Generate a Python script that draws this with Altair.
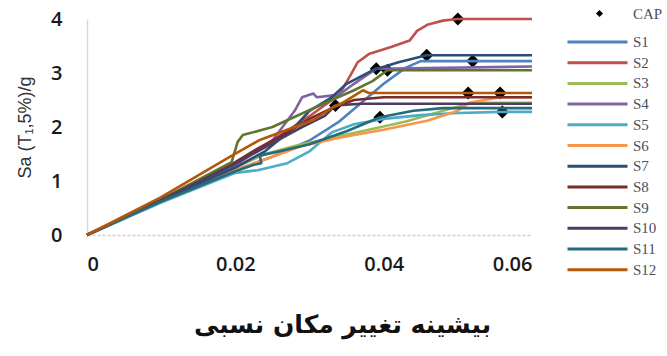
import altair as alt
import pandas as pd

# Series names and their Excel-style colours
SERIES = ["S1", "S2", "S3", "S4", "S5", "S6", "S7", "S8", "S9", "S10", "S11", "S12"]
COLORS = ["#4F81BD", "#C0504D", "#9BBB59", "#8064A2", "#4BACC6", "#F79646",
          "#2C4D75", "#772C2A", "#5F7530", "#4D3B62", "#276A7C", "#B65708"]

# IDA curves: maximum inter-storey drift ratio vs Sa(T1,5%)/g
s1_drift = [0, 0.01, 0.02, 0.025, 0.03, 0.034, 0.037, 0.04, 0.043, 0.045, 0.052, 0.06]
s1_sa = [0, 0.62, 1.2, 1.45, 1.75, 2.1, 2.45, 2.8, 3.1, 3.22, 3.22, 3.22]

s2_drift = [0, 0.01, 0.02, 0.025, 0.03, 0.034, 0.0355, 0.0365, 0.038, 0.041, 0.0435, 0.0445, 0.046, 0.048, 0.05, 0.06]
s2_sa = [0, 0.65, 1.3, 1.75, 2.2, 2.6, 2.95, 3.2, 3.35, 3.48, 3.6, 3.78, 3.9, 3.97, 4.0, 4.0]

s3_drift = [0, 0.01, 0.02, 0.024, 0.028, 0.033, 0.038, 0.043, 0.048, 0.052, 0.06]
s3_sa = [0, 0.64, 1.25, 1.5, 1.65, 1.8, 1.95, 2.1, 2.3, 2.45, 2.45]

s4_drift = [0, 0.01, 0.02, 0.025, 0.028, 0.029, 0.0305, 0.031, 0.034, 0.036, 0.039, 0.06]
s4_sa = [0, 0.65, 1.3, 1.75, 2.3, 2.55, 2.62, 2.55, 2.6, 2.8, 3.08, 3.12]

s5_drift = [0, 0.01, 0.02, 0.023, 0.027, 0.03, 0.033, 0.036, 0.04, 0.045, 0.05, 0.056, 0.06]
s5_sa = [0, 0.6, 1.15, 1.2, 1.33, 1.55, 1.9, 2.05, 2.15, 2.22, 2.26, 2.28, 2.28]

s6_drift = [0, 0.01, 0.02, 0.025, 0.029, 0.034, 0.04, 0.046, 0.05, 0.0515, 0.0557, 0.06]
s6_sa = [0, 0.62, 1.2, 1.45, 1.65, 1.8, 1.95, 2.12, 2.3, 2.45, 2.55, 2.55]

s7_drift = [0, 0.01, 0.02, 0.024, 0.028, 0.03, 0.033, 0.035, 0.0385, 0.042, 0.0458, 0.06]
s7_sa = [0, 0.64, 1.25, 1.55, 2.0, 2.3, 2.55, 2.8, 3.05, 3.2, 3.33, 3.33]

s8_drift = [0, 0.01, 0.02, 0.023, 0.027, 0.03, 0.033, 0.036, 0.04, 0.06]
s8_sa = [0, 0.66, 1.35, 1.6, 1.9, 2.15, 2.35, 2.5, 2.55, 2.55]

s9_drift = [0, 0.01, 0.0195, 0.0203, 0.021, 0.025, 0.029, 0.033, 0.036, 0.0385, 0.0405, 0.06]
s9_sa = [0, 0.66, 1.35, 1.72, 1.85, 2.0, 2.25, 2.5, 2.68, 2.85, 3.05, 3.05]

s10_drift = [0, 0.01, 0.02, 0.025, 0.029, 0.032, 0.0335, 0.037, 0.06]
s10_sa = [0, 0.65, 1.32, 1.7, 2.0, 2.2, 2.4, 2.43, 2.43]

s11_drift = [0, 0.01, 0.02, 0.0225, 0.0235, 0.0233, 0.026, 0.03, 0.035, 0.0395, 0.044, 0.048, 0.06]
s11_sa = [0, 0.62, 1.18, 1.3, 1.33, 1.47, 1.55, 1.68, 1.92, 2.18, 2.3, 2.35, 2.35]

s12_drift = [0, 0.01, 0.0193, 0.0233, 0.0305, 0.0332, 0.0345, 0.0372, 0.038, 0.0514, 0.06]
s12_sa = [0, 0.7, 1.45, 1.76, 2.13, 2.37, 2.45, 2.68, 2.63, 2.63, 2.63]

# Collapse points (CAP)
cap_drift = [0.050, 0.0458, 0.052, 0.039, 0.0405, 0.0514, 0.0557, 0.056, 0.0395, 0.0335]
cap_sa = [4.0, 3.33, 3.22, 3.08, 3.05, 2.63, 2.63, 2.28, 2.18, 2.4]

curves = [
    (s1_drift, s1_sa), (s2_drift, s2_sa), (s3_drift, s3_sa), (s4_drift, s4_sa),
    (s5_drift, s5_sa), (s6_drift, s6_sa), (s7_drift, s7_sa), (s8_drift, s8_sa),
    (s9_drift, s9_sa), (s10_drift, s10_sa), (s11_drift, s11_sa), (s12_drift, s12_sa),
]

rows = []
for name, (dr, sa) in zip(SERIES, curves):
    for i, (d, s) in enumerate(zip(dr, sa)):
        rows.append({"series": name, "idx": i, "drift": d, "sa": s})
lines_df = pd.DataFrame(rows)

cap_df = pd.DataFrame({"drift": cap_drift, "sa": cap_sa, "label": ["CAP"] * len(cap_drift)})

x_enc = alt.X(
    "drift:Q",
    scale=alt.Scale(domain=[0, 0.06], nice=False),
    axis=alt.Axis(
        values=[0, 0.02, 0.04, 0.06], format="~g",
        title="بیشینه تغییر مکان نسبی",
        titleFont="DejaVu Sans", titleFontSize=25, titleFontWeight="bold",
        titleColor="#111", titleAlign="center", titleBaseline="middle",
        titleX=255, titleY=89,
        labelFont="Open Sans", labelFontSize=20, labelFontWeight=600, labelColor="#1a1a1a",
        labelPadding=19, ticks=False, grid=False,
        domainColor="#cfcfcf", domainDash=[3, 2], domainWidth=1.5,
    ),
)
y_enc = alt.Y(
    "sa:Q",
    scale=alt.Scale(domain=[0, 4], nice=False),
    axis=alt.Axis(
        values=[0, 1, 2, 3, 4], format="d",
        title="Sa (T₁,5%)/g",
        titleFont="Liberation Sans", titleFontSize=18, titleFontWeight="normal",
        titleColor="#333", titleAngle=270, titleAlign="center", titleBaseline="middle",
        titleX=-62, titleY=108,
        labelFont="Open Sans", labelFontSize=20, labelFontWeight=600, labelColor="#1a1a1a",
        labelPadding=25, ticks=False, grid=False,
        domainColor="#d9d9d9", domainWidth=1.5,
    ),
)

cap_layer = alt.Chart(cap_df).mark_point(
    shape="diamond", filled=True, color="black", size=170, opacity=1
).encode(
    x="drift:Q",
    y="sa:Q",
    shape=alt.Shape(
        "label:N",
        scale=alt.Scale(domain=["CAP"], range=["diamond"]),
        legend=alt.Legend(
            title=None, orient="none", legendX=505, legendY=-13, padding=0,
            symbolSize=50, symbolFillColor="black", symbolStrokeColor="black",
            labelOffset=26, labelFont="Liberation Serif", labelFontSize=15,
            labelColor="#4a5060",
        ),
    ),
)

line_layer = alt.Chart(lines_df).mark_line(strokeWidth=2.6, strokeJoin="round").encode(
    x=x_enc,
    y=y_enc,
    color=alt.Color(
        "series:N",
        scale=alt.Scale(domain=SERIES, range=COLORS),
        legend=alt.Legend(
            title=None, orient="none", legendX=479, legendY=14, padding=0,
            symbolType="stroke", symbolSize=3600, symbolStrokeWidth=3,
            clipHeight=18, rowPadding=2.7, labelOffset=4,
            labelFont="Liberation Serif", labelFontSize=15, labelColor="#4a5060",
        ),
    ),
    order="idx:Q",
)

chart = alt.layer(cap_layer, line_layer).resolve_scale(
    color="independent", shape="independent"
).properties(
    width=445, height=216,
    background="white",
    autosize=alt.AutoSizeParams(type="none"),
    padding={"left": 87, "top": 19, "right": 135, "bottom": 121},
).configure_view(stroke=None)

chart.save("out.html", embed_options={"renderer": "svg", "actions": False})
